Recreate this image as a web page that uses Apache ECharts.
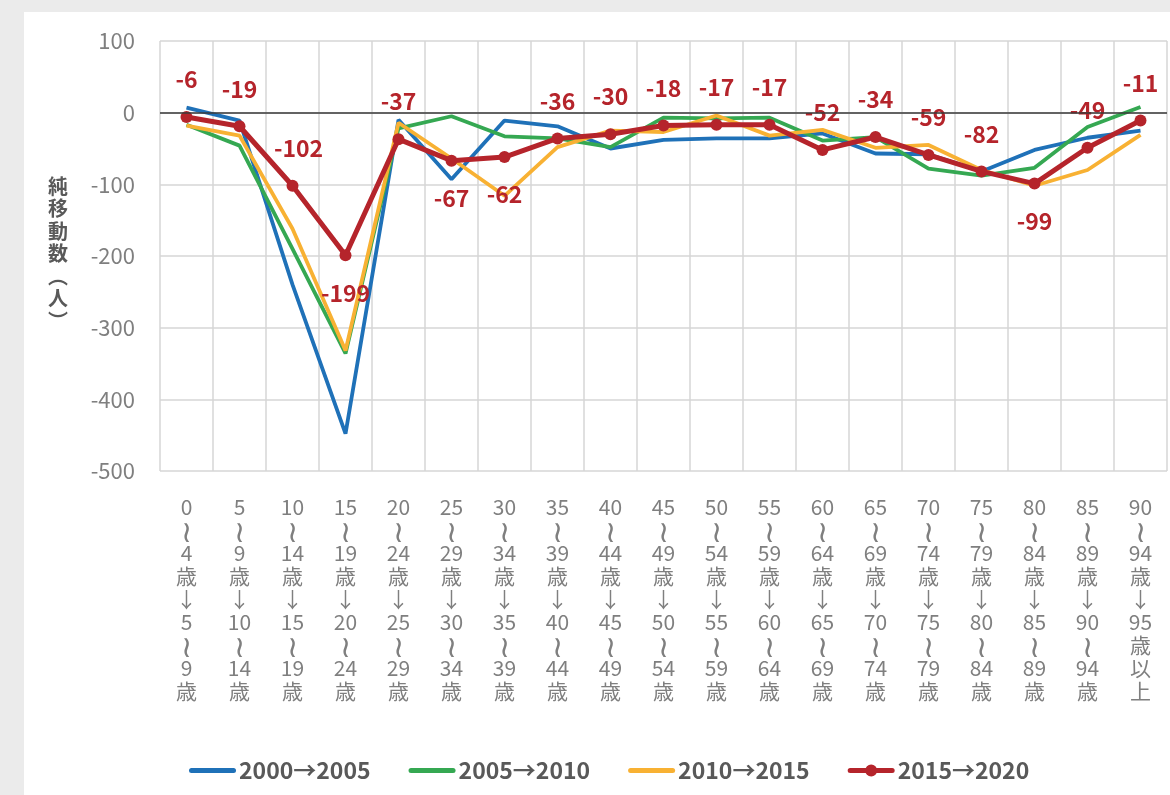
<!DOCTYPE html>
<html>
<head>
<meta charset="utf-8">
<script src="https://cdn.jsdelivr.net/npm/echarts@6/dist/echarts.min.js"></script>
<style>
  html, body { margin: 0; padding: 0; background: #ebebeb; }
  #chart { position: absolute; left: 24px; top: 12px; width: 1146px; height: 783px; background: #ffffff; }
</style>
</head>
<body>
<div id="chart"></div>
<script>
// 年齢階級（移動前→移動後）
var categories = [
    '0～4歳→5～9歳', '5～9歳→10～14歳', '10～14歳→15～19歳', '15～19歳→20～24歳',
    '20～24歳→25～29歳', '25～29歳→30～34歳', '30～34歳→35～39歳', '35～39歳→40～44歳',
    '40～44歳→45～49歳', '45～49歳→50～54歳', '50～54歳→55～59歳', '55～59歳→60～64歳',
    '60～64歳→65～69歳', '65～69歳→70～74歳', '70～74歳→75～79歳', '75～79歳→80～84歳',
    '80～84歳→85～89歳', '85～89歳→90～94歳', '90～94歳→95歳以上'
];
var seriesNames = ['2000→2005', '2005→2010', '2010→2015', '2015→2020'];
var net2000 = [7, -11, -240, -448, -10, -93, -11, -19, -50, -38, -36, -36, -29, -57, -58, -82, -52, -35, -25];
var net2005 = [-17, -46, -190, -336, -22, -5, -33, -36, -48, -7, -8, -7, -39, -34, -78, -88, -77, -20, 8];
var net2010 = [-18, -32, -162, -332, -14, -64, -116, -48, -25, -27, -4, -32, -24, -49, -45, -80, -102, -80, -31];
var net2015 = [-6, -19, -102, -199, -37, -67, -62, -36, -30, -18, -17, -17, -52, -34, -59, -82, -99, -49, -11];
var yTicks = { min: -500, max: 100, interval: 100 };

// ラベルを下に置く点
var labelBelow = [3, 5, 6, 16];

var colors = ['#1f71b8', '#35a852', '#f8b133', '#b5242b'];
var jpFont = '"Noto Sans CJK JP", "Noto Sans", sans-serif';
// 凡例アイコン（線のみ / 線＋マーカー）
var lineIcon = 'path://M2.5,4 L44.5,4 A2.5,2.5 0 0 1 44.5,9 L2.5,9 A2.5,2.5 0 0 1 2.5,4 Z';
var markerIcon = lineIcon + ' M29.5,6.5 A6,6 0 1 1 17.5,6.5 A6,6 0 1 1 29.5,6.5 Z';

// 横書きの区分名を縦書き風に（数字はまとめて1行）
function vertical(s) {
    return s.match(/\d+|./g).map(function(c) {
        if (c === '～') return '{w|≀}';
        if (c === '→') return '↓';
        return c;
    }).join('\n');
}

var redData = net2015.map(function(v, i) {
    var item = { value: v };
    if (labelBelow.indexOf(i) >= 0) {
        item.label = { position: 'bottom' };
    }
    if (i === 2) {
        item.label = { offset: [6, 0] };
    }
    return item;
});

function plainLine(name, data, color) {
    return {
        name: name,
        type: 'line',
        data: data,
        symbol: 'none',
        color: color,
        lineStyle: { color: color, width: 3.8 },
        z: 2
    };
}

var option = {
    animation: false,
    textStyle: { fontFamily: jpFont },
    grid: {
        left: 136,
        top: 29,
        right: 3,
        bottom: 324,
        outerBoundsMode: 'none'
    },
    legend: {
        left: 160,
        top: 742,
        itemWidth: 47,
        itemHeight: 14,
        itemGap: 38,
        textStyle: { fontFamily: jpFont, fontSize: 23, fontWeight: 'bold', color: '#595959', padding: [0, 0, 0, -2] },
        data: [
            { name: seriesNames[0], icon: lineIcon },
            { name: seriesNames[1], icon: lineIcon },
            { name: seriesNames[2], icon: lineIcon },
            { name: seriesNames[3], icon: markerIcon }
        ]
    },
    xAxis: {
        type: 'category',
        data: categories,
        boundaryGap: true,
        axisLine: { show: false },
        axisTick: { show: false },
        splitLine: { show: true, lineStyle: { color: '#d6d6d6', width: 1.5 } },
        axisLabel: {
            interval: 0,
            margin: 25,
            fontFamily: jpFont,
            fontSize: 21,
            lineHeight: 23,
            color: '#7f7f7f',
            verticalAlign: 'top',
            formatter: vertical,
            rich: {
                w: { fontFamily: jpFont, fontSize: 30, lineHeight: 23, color: '#7f7f7f' }
            }
        }
    },
    yAxis: {
        type: 'value',
        min: yTicks.min,
        max: yTicks.max,
        interval: yTicks.interval,
        axisLine: { show: false },
        axisTick: { show: false },
        splitLine: { show: true, lineStyle: { color: '#d6d6d6', width: 1.5 } },
        axisLabel: {
            margin: 25,
            fontFamily: jpFont,
            fontSize: 22,
            color: '#7f7f7f'
        }
    },
    graphic: [{
        type: 'text',
        left: 24,
        top: 163,
        style: {
            text: '純\n移\n動\n数\n︵\n人\n︶',
            fontFamily: jpFont,
            fontSize: 20,
            fontWeight: 'bold',
            lineHeight: 22.5,
            fill: '#595959',
            align: 'center'
        }
    }],
    series: [
        plainLine(seriesNames[0], net2000, colors[0]),
        plainLine(seriesNames[1], net2005, colors[1]),
        plainLine(seriesNames[2], net2010, colors[2]),
        {
            name: seriesNames[3],
            type: 'line',
            data: redData,
            color: colors[3],
            symbol: 'circle',
            symbolSize: 12,
            lineStyle: { color: colors[3], width: 5 },
            itemStyle: { color: colors[3] },
            label: {
                show: true,
                position: 'top',
                distance: 20,
                fontFamily: jpFont,
                fontSize: 23,
                fontWeight: 'bold',
                color: colors[3]
            },
            markLine: {
                silent: true,
                symbol: 'none',
                label: { show: false },
                lineStyle: { color: '#3a3a3a', width: 1.5, type: 'solid' },
                data: [{ yAxis: 0 }]
            },
            z: 3
        }
    ]
};

var myChart = echarts.init(document.getElementById('chart'));
myChart.setOption(option);
</script>
</body>
</html>
